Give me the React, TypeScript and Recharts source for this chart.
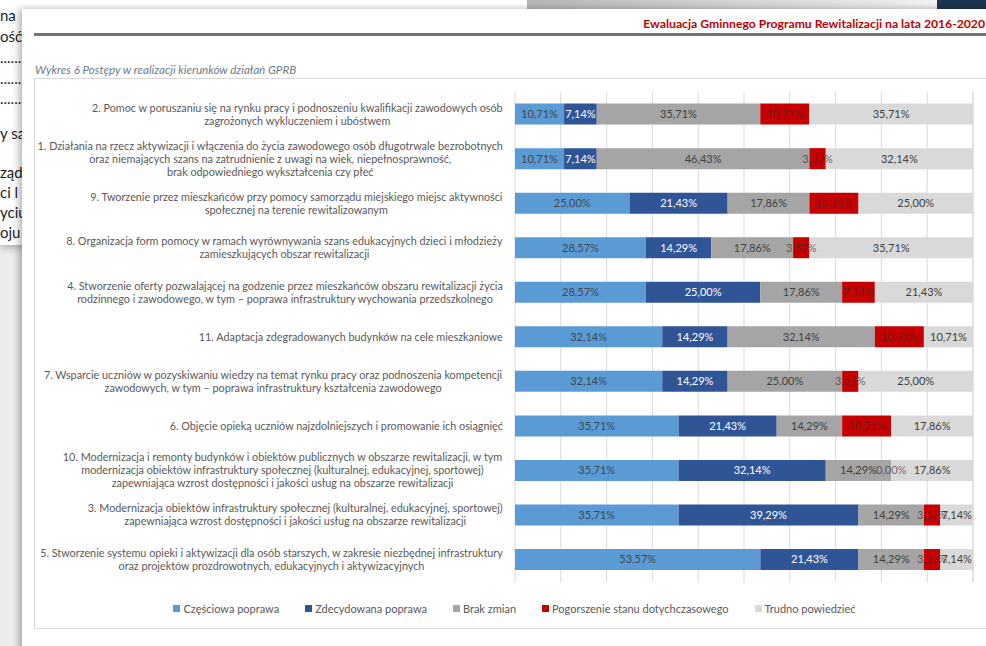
import React from 'react';
import { BarChart, Bar, XAxis, YAxis, CartesianGrid, LabelList, Legend } from 'recharts';

const categories: string[] = [
  '2. Pomoc w poruszaniu się na rynku pracy i podnoszeniu kwalifikacji zawodowych osób\nzagrożonych wykluczeniem i ubóstwem',
  '1. Działania na rzecz aktywizacji i włączenia do życia zawodowego osób długotrwale bezrobotnych\noraz niemających szans na zatrudnienie z uwagi na wiek, niepełnosprawność,\nbrak odpowiedniego wykształcenia czy płeć',
  '9. Tworzenie przez mieszkańców przy pomocy samorządu miejskiego miejsc aktywności\nspołecznej na terenie rewitalizowanym',
  '8. Organizacja form pomocy w ramach wyrównywania szans edukacyjnych dzieci i młodzieży\nzamieszkujących obszar rewitalizacji',
  '4. Stworzenie oferty pozwalającej na godzenie przez mieszkańców obszaru rewitalizacji życia\nrodzinnego i zawodowego, w tym – poprawa infrastruktury wychowania przedszkolnego',
  '11. Adaptacja zdegradowanych budynków na cele mieszkaniowe',
  '7. Wsparcie uczniów w pozyskiwaniu wiedzy na temat rynku pracy oraz podnoszenia kompetencji\nzawodowych, w tym – poprawa infrastruktury kształcenia zawodowego',
  '6. Objęcie opieką uczniów najzdolniejszych i promowanie ich osiągnięć',
  '10. Modernizacja i remonty budynków i obiektów publicznych w obszarze rewitalizacji, w tym\nmodernizacja obiektów infrastruktury społecznej (kulturalnej, edukacyjnej, sportowej)\nzapewniająca wzrost dostępności i jakości usług na obszarze rewitalizacji',
  '3. Modernizacja obiektów infrastruktury społecznej (kulturalnej, edukacyjnej, sportowej)\nzapewniająca wzrost dostępności i jakości usług na obszarze rewitalizacji',
  '5. Stworzenie systemu opieki i aktywizacji dla osób starszych, w zakresie niezbędnej infrastruktury\noraz projektów prozdrowotnych, edukacyjnych i aktywizacyjnych',
];

const czesciowa: number[] = [10.71, 10.71, 25.0, 28.57, 28.57, 32.14, 32.14, 35.71, 35.71, 35.71, 53.57];
const zdecydowana: number[] = [7.14, 7.14, 21.43, 14.29, 25.0, 14.29, 14.29, 21.43, 32.14, 39.29, 21.43];
const brakZmian: number[] = [35.71, 46.43, 17.86, 17.86, 17.86, 32.14, 25.0, 14.29, 14.29, 14.29, 14.29];
const pogorszenie: number[] = [10.71, 3.57, 10.71, 3.57, 7.14, 10.71, 3.57, 10.71, 0.0, 3.57, 3.57];
const trudno: number[] = [35.71, 32.14, 25.0, 35.71, 21.43, 10.71, 25.0, 17.86, 17.86, 7.14, 7.14];

const xTicks: number[] = [0, 10, 20, 30, 40, 50, 60, 70, 80, 90, 100];

const seriesNames: string[] = [
  'Częściowa poprawa',
  'Zdecydowana poprawa',
  'Brak zmian',
  'Pogorszenie stanu dotychczasowego',
  'Trudno powiedzieć',
];
const seriesKeys = ['czesciowa', 'zdecydowana', 'brak', 'pogorszenie', 'trudno'];
const seriesColors = ['#5B9BD5', '#2F5597', '#A5A5A5', '#C60000', '#D9D9D9'];
const labelColors = ['#3f4652', '#ffffff', '#404040', 'rgba(60,45,45,0.7)', '#404040'];

const data = categories.map((name, i) => ({
  name,
  czesciowa: czesciowa[i],
  zdecydowana: zdecydowana[i],
  brak: brakZmian[i],
  pogorszenie: pogorszenie[i],
  trudno: trudno[i],
}));

const FONT = 'Lato, "Open Sans", sans-serif';
const TICK_SIZE = 10.8;
const LINE_H = 13;

let ctx: CanvasRenderingContext2D | null = null;
function measure(s: string, font: string): number {
  if (!ctx && typeof document !== 'undefined') {
    ctx = document.createElement('canvas').getContext('2d');
  }
  if (!ctx) return s.length * 5;
  ctx.font = font;
  return ctx.measureText(s).width;
}

const CategoryTick = (props: any) => {
  const { x, y, payload } = props;
  const lines = String(payload.value).split('\n');
  const font = `${TICK_SIZE}px Lato`;
  const maxW = Math.max(...lines.map((l) => measure(l, font)));
  const cx = x - 12 - maxW / 2;
  const startY = y - ((lines.length - 1) * LINE_H) / 2;
  return (
    <text textAnchor="middle" fill="#595959" fontSize={TICK_SIZE} fontFamily={FONT}>
      {lines.map((l, i) => (
        <tspan key={i} x={cx} y={startY + i * LINE_H} dy="0.35em">
          {l}
        </tspan>
      ))}
    </text>
  );
};

const fmt = (v: any) => `${Number(v).toFixed(2).replace('.', ',')}%`;

const LegendContent = () => {
  return (
    <div
      style={{
        height: 46,
        boxSizing: 'border-box',
        paddingTop: 20,
        paddingLeft: 22,
        display: 'flex',
        justifyContent: 'center',
        alignItems: 'flex-start',
        gap: 26,
        fontFamily: FONT,
        fontSize: 11,
        color: '#595959',
      }}
    >
      {seriesNames.map((n, i) => (
        <div key={i} style={{ display: 'flex', alignItems: 'center', lineHeight: '13px' }}>
          <span style={{ width: 7, height: 7, background: seriesColors[i], display: 'inline-block', marginRight: 3 }} />
          <span>{n}</span>
        </div>
      ))}
    </div>
  );
};

const leftDocTexts: { t: string; y: number }[] = [
  { t: 'na', y: 7 },
  { t: 'ość', y: 28 },
  { t: '..........', y: 49 },
  { t: '..........', y: 70 },
  { t: '..........', y: 90 },
  { t: 'y sa', y: 125 },
  { t: 'ząd', y: 164 },
  { t: 'ci l', y: 184 },
  { t: 'yciu', y: 204 },
  { t: 'oju', y: 224 },
];

export default function App() {
  return (
    <div
      style={{
        position: 'fixed',
        left: 0,
        top: 0,
        width: 986,
        height: 646,
        overflow: 'hidden',
        background: '#ececec',
        fontFamily: FONT,
      }}
    >
      <div
        style={{
          position: 'absolute',
          left: 0,
          top: 0,
          width: 527,
          height: 245,
          background: '#fff',
          boxShadow: '0 2px 8px rgba(0,0,0,0.3)',
        }}
      >
        {leftDocTexts.map((d, i) => (
          <div
            key={i}
            style={{
              position: 'absolute',
              left: 0,
              top: d.y,
              fontSize: 15,
              lineHeight: '16px',
              color: '#1e1e1e',
              fontFamily: FONT,
              whiteSpace: 'nowrap',
            }}
          >
            {d.t}
          </div>
        ))}
      </div>
      <div
        style={{
          position: 'absolute',
          left: 527,
          top: 0,
          width: 410,
          height: 9,
          background: 'linear-gradient(to right, #b5b5b5, #f2f2f2)',
        }}
      />
      <div style={{ position: 'absolute', left: 937, top: 0, width: 49, height: 9, background: '#1d3553' }} />
      <div
        style={{
          position: 'absolute',
          left: 22,
          top: 9,
          width: 980,
          height: 660,
          background: '#fff',
          boxShadow: '-3px 0 7px rgba(0,0,0,0.3)',
        }}
      />
      <div
        style={{
          position: 'absolute',
          right: 1,
          top: 16,
          fontSize: 12.2,
          fontWeight: 700,
          color: '#C00000',
          whiteSpace: 'nowrap',
          lineHeight: '15px',
        }}
      >
        Ewaluacja Gminnego Programu Rewitalizacji na lata 2016-2020
      </div>
      <div style={{ position: 'absolute', left: 34, top: 33, width: 952, height: 3, background: '#737373' }} />
      <div
        style={{
          position: 'absolute',
          left: 35,
          top: 63,
          fontSize: 11.6,
          fontStyle: 'italic',
          color: '#6b7b8c',
          whiteSpace: 'nowrap',
          lineHeight: '14px',
        }}
      >
        Wykres 6 Postępy w realizacji kierunków działań GPRB
      </div>
      <div
        style={{
          position: 'absolute',
          left: 34,
          top: 78,
          width: 970,
          height: 549,
          border: '1px solid #d9d9d9',
        }}
      />
      <div style={{ position: 'absolute', left: 34, top: 78 }}>
        <BarChart
          width={952}
          height={550}
          data={data}
          layout="vertical"
          margin={{ top: 14, right: 13, bottom: 0, left: 0 }}
          barCategoryGap="26%"
        >
          <CartesianGrid horizontal={false} stroke="#d9d9d9" />
          <XAxis type="number" domain={[0, 100]} ticks={xTicks} hide />
          <YAxis
            type="category"
            dataKey="name"
            width={481}
            tick={<CategoryTick />}
            tickLine={false}
            axisLine={false}
            tickSize={0}
            tickMargin={0}
            interval={0}
          />
          {seriesKeys.map((k, i) => (
            <Bar
              key={k}
              dataKey={k}
              name={seriesNames[i]}
              stackId="a"
              fill={seriesColors[i]}
              minPointSize={k === 'pogorszenie' ? 0.01 : 0}
              isAnimationActive={false}
            >
              <LabelList
                dataKey={k}
                position="center"
                formatter={fmt}
                fill={labelColors[i]}
                fontSize={11}
                fontFamily={FONT}
              />
            </Bar>
          ))}
          <Legend verticalAlign="bottom" content={<LegendContent />} />
        </BarChart>
      </div>
    </div>
  );
}
